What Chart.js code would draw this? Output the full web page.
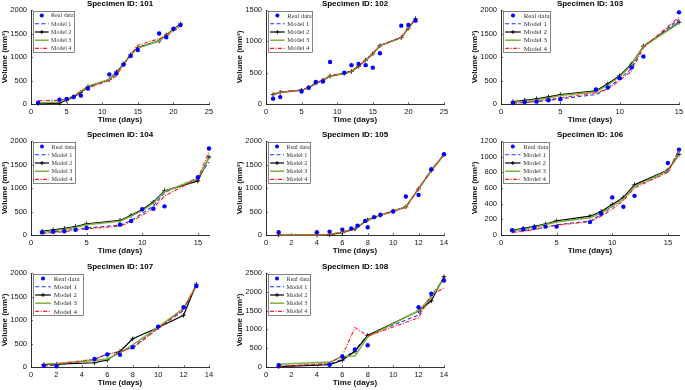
<!DOCTYPE html>
<html><head><meta charset="utf-8">
<script src="https://cdn.jsdelivr.net/npm/chart.js@4/dist/chart.umd.min.js"></script>
<style>
html,body{margin:0;padding:0;background:#fff;width:685px;height:390px;overflow:hidden;position:relative}
canvas.c{position:absolute}
</style></head><body>
<script>
// ---------- data ----------
const seriesNames = ['Real data', 'Model 1', 'Model 2', 'Model 3', 'Model 4'];

const xt25 = [0, 5, 10, 15, 20, 25];
const xt15 = [0, 5, 10, 15];
const xt14 = [0, 2, 4, 6, 8, 10, 12, 14];
const yt2000 = [0, 500, 1000, 1500, 2000];
const yt1500 = [0, 500, 1000, 1500];
const yt1200 = [0, 200, 400, 600, 800, 1000, 1200];
const yt2500 = [0, 500, 1000, 1500, 2000, 2500];

// Specimen 101
const t101 = [1, 4, 5, 6, 7, 8, 11, 12, 13, 14, 15, 18, 19, 20, 21];
const real101 = [30, 90, 110, 150, 180, 330, 630, 650, 840, 1020, 1150, 1500, 1420, 1600, 1680];
const m1_101 = [20, 30, 90, 160, 260, 360, 510, 670, 850, 1040, 1200, 1350, 1470, 1590, 1700];
const m2_101 = [10, 20, 80, 150, 250, 370, 520, 680, 850, 1050, 1200, 1340, 1470, 1590, 1700];
const m3_101 = [20, 40, 100, 170, 270, 380, 520, 650, 840, 1040, 1190, 1340, 1460, 1580, 1690];
const m4_101 = [70, 80, 110, 160, 260, 340, 500, 600, 850, 1050, 1250, 1390, 1450, 1550, 1650];

// Specimen 102
const t102 = [1, 2, 5, 6, 7, 8, 9, 11, 12, 13, 14, 15, 16, 19, 20, 21];
const real102 = [85, 110, 200, 260, 350, 360, 670, 500, 620, 640, 620, 580, 810, 1250, 1260, 1330];
const m1_102 = [155, 190, 225, 265, 335, 385, 450, 495, 525, 605, 705, 805, 935, 1065, 1215, 1365];
const m2_102 = [150, 185, 220, 260, 330, 380, 445, 490, 520, 600, 700, 800, 930, 1060, 1210, 1360];
const m3_102 = [148, 183, 218, 258, 328, 378, 443, 488, 518, 598, 698, 798, 928, 1058, 1208, 1358];
const m4_102 = [152, 187, 222, 262, 332, 382, 447, 492, 522, 602, 702, 802, 932, 1062, 1212, 1362];

// Specimen 103
const t103 = [1, 2, 3, 4, 5, 8, 9, 10, 11, 12, 15];
const real103 = [20, 40, 50, 80, 100, 310, 350, 550, 780, 1010, 1950];
const m1_103 = [20, 30, 50, 80, 110, 200, 330, 540, 750, 1220, 1800];
const m2_103 = [50, 80, 110, 150, 200, 280, 430, 600, 850, 1230, 1740];
const m3_103 = [30, 60, 90, 130, 180, 260, 400, 580, 830, 1220, 1720];
const m4_103 = [15, 30, 60, 90, 130, 240, 320, 500, 700, 1200, 1850];

// Specimen 104
const t104 = [1, 2, 3, 4, 5, 8, 9, 10, 11, 12, 15, 16];
const real104 = [55, 70, 80, 110, 150, 220, 300, 550, 560, 610, 1230, 1840];
const m1_104 = [50, 70, 90, 120, 150, 210, 310, 460, 620, 900, 1220, 1550];
const m2_104 = [80, 110, 140, 180, 240, 310, 420, 540, 700, 940, 1150, 1660];
const m3_104 = [60, 90, 120, 160, 220, 290, 400, 520, 680, 920, 1200, 1640];
const m4_104 = [30, 50, 70, 100, 130, 190, 280, 420, 570, 830, 1200, 1780];

// Specimen 105
const t105 = [1, 4, 5, 6, 7, 8, 9, 10, 11, 12, 13, 14];
const rt105 = [1, 4, 5, 6, 6.7, 7.2, 7.8, 8, 8.5, 9, 10, 11, 12, 13, 14];
const real105 = [58, 58, 72, 115, 140, 200, 300, 165, 380, 430, 500, 820, 850, 1400, 1720];
const m1_105 = [0, 0, 12, 55, 135, 325, 425, 510, 600, 985, 1375, 1710];
const m2_105 = [0, 0, 10, 50, 130, 320, 420, 510, 600, 980, 1370, 1710];
const m3_105 = [0, 0, 15, 60, 140, 310, 420, 505, 595, 975, 1365, 1705];
const m4_105 = [0, 0, 12, 65, 130, 330, 425, 500, 590, 990, 1380, 1715];

// Specimen 106
const t106 = [1, 2, 3, 4, 5, 8, 9, 10, 11, 12, 15, 16];
const real106 = [60, 75, 95, 107, 107, 165, 270, 480, 360, 500, 920, 1090];
const m1_106 = [40, 55, 75, 100, 130, 180, 260, 360, 470, 620, 810, 1080];
const m2_106 = [60, 85, 110, 140, 180, 240, 300, 390, 480, 640, 830, 1030];
const m3_106 = [50, 75, 100, 130, 165, 220, 280, 370, 460, 620, 820, 1020];
const m4_106 = [30, 45, 70, 95, 125, 170, 240, 330, 440, 600, 800, 1090];

// Specimen 107
const t107 = [1, 2, 5, 6, 7, 8, 10, 12, 13];
const real107 = [30, 15, 170, 265, 260, 420, 860, 1270, 1720];
const m1_107 = [20, 40, 160, 280, 320, 420, 830, 1200, 1730];
const m2_107 = [50, 60, 90, 150, 330, 600, 840, 1100, 1760];
const m3_107 = [60, 75, 140, 170, 300, 470, 850, 1250, 1740];
const m4_107 = [40, 60, 170, 270, 330, 400, 820, 1230, 1730];

// Specimen 108
const t108 = [1, 5, 6, 7, 8, 12, 13, 14];
const real108 = [50, 60, 280, 470, 580, 1590, 1950, 2300];
const m1_108 = [20, 80, 200, 450, 850, 1380, 1900, 2350];
const m2_108 = [10, 60, 180, 420, 840, 1490, 1760, 2400];
const m3_108 = [70, 130, 280, 290, 800, 1500, 1850, 2350];
const m4_108 = [10, 100, 300, 1050, 820, 1310, 1920, 2100];

// ---------- layout / style ----------
const FONT = "'Liberation Sans', Arial, Helvetica, sans-serif";
const SERIF = "'Liberation Serif', 'Times New Roman', serif";
const AX = '#1a1a1a';
const YW = 32, PW = 178, PH = 94, PR = 10, TH = 11, XH = 22;
const colLeft = [-1, 234, 469];
const rowTop = [-1, 130, 262];

const panels = [
  {id: '101', t: t101, rt: t101, real: real101, m: [m1_101, m2_101, m3_101, m4_101], xMax: 25, xt: xt25, yMax: 2000, yt: yt2000, c: 0, r: 0, lw: 41},
  {id: '102', t: t102, rt: t102, real: real102, m: [m1_102, m2_102, m3_102, m4_102], xMax: 25, xt: xt25, yMax: 1500, yt: yt1500, c: 1, r: 0, lw: 44},
  {id: '103', t: t103, rt: t103, real: real103, m: [m1_103, m2_103, m3_103, m4_103], xMax: 15, xt: xt15, yMax: 2000, yt: yt2000, c: 2, r: 0, lw: 47},
  {id: '104', t: t104, rt: t104, real: real104, m: [m1_104, m2_104, m3_104, m4_104], xMax: 16, xt: xt15, yMax: 2000, yt: yt2000, c: 0, r: 1, lw: 42},
  {id: '105', t: t105, rt: rt105, real: real105, m: [m1_105, m2_105, m3_105, m4_105], xMax: 14, xt: xt14, yMax: 2000, yt: yt2000, c: 1, r: 1, lw: 42},
  {id: '106', t: t106, rt: t106, real: real106, m: [m1_106, m2_106, m3_106, m4_106], xMax: 16, xt: xt15, yMax: 1200, yt: yt1200, c: 2, r: 1, lw: 46},
  {id: '107', t: t107, rt: t107, real: real107, m: [m1_107, m2_107, m3_107, m4_107], xMax: 14, xt: xt14, yMax: 2000, yt: yt2000, c: 0, r: 2, lw: 50},
  {id: '108', t: t108, rt: t108, real: real108, m: [m1_108, m2_108, m3_108, m4_108], xMax: 14, xt: xt14, yMax: 2500, yt: yt2500, c: 1, r: 2, lw: 42}
];

const modelStyles = [
  {borderColor: '#1a33ff', borderWidth: 1.1, borderDash: [4, 2.5], pointRadius: 0},
  {borderColor: '#000000', borderWidth: 1.2, borderDash: [], pointRadius: 2.3, pointStyle: 'cross', pointBorderWidth: 0.9},
  {borderColor: '#7ab33c', borderWidth: 1.5, borderDash: [], pointRadius: 0},
  {borderColor: '#ff1a1a', borderWidth: 1.1, borderDash: [4, 1.5, 1, 1.5], pointRadius: 0}
];

const inTicks = {
  id: 'inTicks',
  beforeDatasetsDraw(chart) {
    const {ctx, chartArea: a, scales} = chart;
    ctx.save();
    ctx.strokeStyle = AX; ctx.lineWidth = 0.6;
    ctx.beginPath();
    scales.x.ticks.forEach(tk => {
      const px = Math.round(scales.x.getPixelForValue(tk.value)) + 0.5;
      ctx.moveTo(px, a.bottom); ctx.lineTo(px, a.bottom - 2);
    });
    scales.y.ticks.forEach(tk => {
      const py = Math.round(scales.y.getPixelForValue(tk.value)) + 0.5;
      ctx.moveTo(a.left, py); ctx.lineTo(a.left + 2, py);
    });
    ctx.stroke();
    ctx.restore();
  }
};

const matLegend = {
  id: 'matLegend',
  afterDatasetsDraw(chart) {
    const o = chart.options.plugins.matLegend;
    if (!o) return;
    const {ctx, chartArea: a} = chart;
    const x = Math.round(a.left + 2) + 0.5, y = Math.round(a.top + 1) + 0.5, w = o.w, h = 41;
    const s = Math.min(1.12, o.w / 42);
    ctx.save();
    ctx.fillStyle = '#fff'; ctx.fillRect(x, y, w, h);
    ctx.strokeStyle = '#333'; ctx.lineWidth = 0.6; ctx.setLineDash([]); ctx.strokeRect(x, y, w, h);
    const rowH = h / 5;
    ctx.font = (6.2 * s).toFixed(2) + 'px ' + SERIF;
    ctx.textBaseline = 'middle'; ctx.textAlign = 'left';
    chart.data.datasets.forEach((ds, i) => {
      const cy = y + rowH * (i + 0.5);
      const x1 = x + 1.5 * s, x2 = x + 15.5 * s, xm = (x1 + x2) / 2;
      ctx.save();
      if (ds.showLine === false) {
        ctx.fillStyle = ds.pointBackgroundColor;
        ctx.beginPath(); ctx.arc(xm, cy, 2, 0, Math.PI * 2); ctx.fill();
      } else {
        ctx.strokeStyle = ds.borderColor; ctx.lineWidth = ds.borderWidth;
        ctx.setLineDash(ds.borderDash || []);
        ctx.beginPath(); ctx.moveTo(x1, cy); ctx.lineTo(x2, cy); ctx.stroke();
        if (ds.pointStyle === 'cross') {
          ctx.setLineDash([]); ctx.lineWidth = 0.9;
          ctx.beginPath();
          ctx.moveTo(xm - 2, cy); ctx.lineTo(xm + 2, cy);
          ctx.moveTo(xm, cy - 2); ctx.lineTo(xm, cy + 2);
          ctx.stroke();
        }
      }
      ctx.restore();
      ctx.fillStyle = '#333';
      ctx.fillText(ds.label, x + 18 * s, cy + 0.3);
    });
    ctx.restore();
  }
};

panels.forEach(p => {
  const cv = document.createElement('canvas');
  cv.className = 'c';
  const W = YW + PW + PR, H = TH + PH + XH;
  cv.width = W; cv.height = H;
  cv.style.width = W + 'px'; cv.style.height = H + 'px';
  cv.style.left = colLeft[p.c] + 'px';
  cv.style.top = rowTop[p.r] + 'px';
  document.body.appendChild(cv);

  const datasets = [];
  datasets.push({
    label: seriesNames[0],
    data: p.rt.map((d, i) => ({x: d, y: p.real[i]})),
    showLine: false,
    pointRadius: 2.2, pointStyle: 'circle',
    pointBackgroundColor: '#0000ff', pointBorderColor: '#0000ff', pointBorderWidth: 0,
    borderColor: '#0000ff', clip: false, order: 0
  });
  p.m.forEach((arr, k) => {
    const st = modelStyles[k];
    datasets.push(Object.assign({
      label: seriesNames[k + 1],
      data: p.t.map((d, i) => ({x: d, y: arr[i]})),
      showLine: true, fill: false, tension: 0,
      pointBackgroundColor: st.borderColor, pointBorderColor: st.borderColor,
      clip: false, order: 4 - k
    }, st));
  });

  new Chart(cv, {
    type: 'line',
    data: {datasets},
    plugins: [inTicks, matLegend],
    options: {
      responsive: false, animation: false, devicePixelRatio: 1, events: [],
      layout: {padding: {left: 0, top: 0, right: PR, bottom: 0}},
      plugins: {
        legend: {display: false},
        tooltip: {enabled: false},
        title: {
          display: true, text: 'Specimen ID: ' + p.id, color: '#000', fullSize: false,
          font: {family: FONT, size: 8, weight: 'bold', lineHeight: 1.25},
          padding: {top: 0, bottom: 1}
        },
        matLegend: {w: p.lw}
      },
      scales: {
        x: {
          type: 'linear', min: 0, max: p.xMax,
          afterBuildTicks: s => { s.ticks = p.xt.map(v => ({value: v})); },
          afterFit: s => { s.height = XH; },
          grid: {display: false, drawTicks: false},
          border: {display: true, color: AX, width: 0.9},
          ticks: {font: {family: FONT, size: 7.5}, color: '#111', padding: 3, maxRotation: 0, autoSkip: false,
            callback: v => String(v)},
          title: {display: true, text: 'Time (days)', color: '#111',
            font: {family: FONT, size: 8, weight: 'bold', lineHeight: 1.25}, padding: {top: 0, bottom: 1}}
        },
        y: {
          type: 'linear', min: 0, max: p.yMax,
          afterBuildTicks: s => { s.ticks = p.yt.map(v => ({value: v})); },
          afterFit: s => { s.width = YW; },
          grid: {display: false, drawTicks: false},
          border: {display: true, color: AX, width: 0.9},
          ticks: {font: {family: FONT, size: 7.5}, color: '#111', padding: 4, autoSkip: false,
            callback: v => String(v)},
          title: {display: true, text: 'Volume (mm³)', color: '#111',
            font: {family: FONT, size: 8, weight: 'bold', lineHeight: 1.25}, padding: {top: 1, bottom: 0}}
        }
      }
    }
  });
});
</script>
</body></html>
